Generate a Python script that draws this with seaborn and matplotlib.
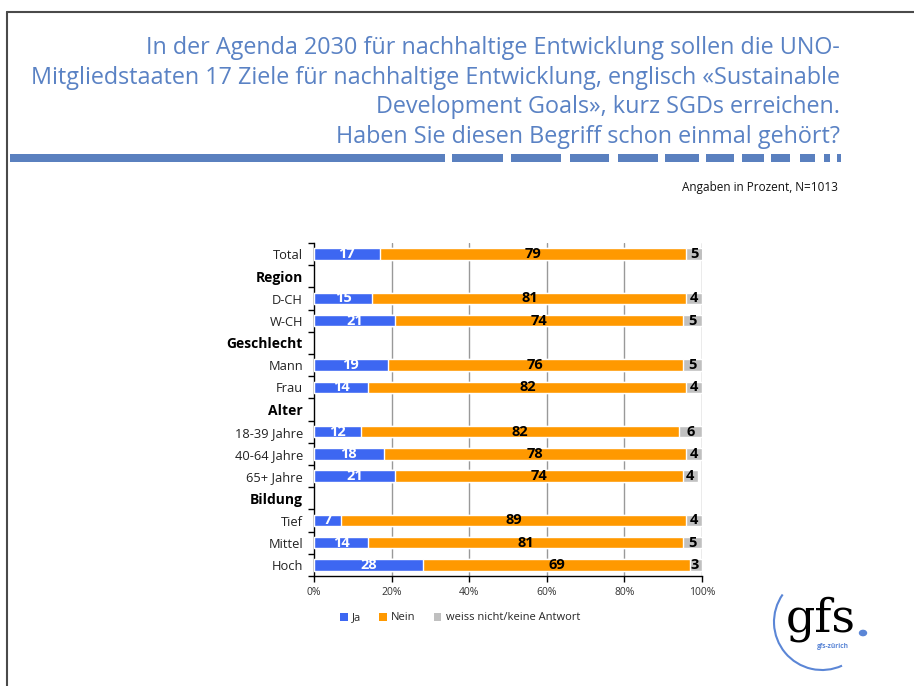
import numpy as np
import pandas as pd
import matplotlib
matplotlib.use("Agg")
import matplotlib.pyplot as plt
from matplotlib.patches import Rectangle, Arc, Patch, Circle
from matplotlib.lines import Line2D
import seaborn as sns

# data
labels = ["Total", "Region", "D-CH", "W-CH", "Geschlecht", "Mann", "Frau",
          "Alter", "18-39 Jahre", "40-64 Jahre", "65+ Jahre",
          "Bildung", "Tief", "Mittel", "Hoch"]
headers = ["Region", "Geschlecht", "Alter", "Bildung"]
ja = [17, np.nan, 15, 21, np.nan, 19, 14, np.nan, 12, 18, 21, np.nan, 7, 14, 28]
nein = [79, np.nan, 81, 74, np.nan, 76, 82, np.nan, 82, 78, 74, np.nan, 89, 81, 69]
wn = [5, np.nan, 4, 5, np.nan, 5, 4, np.nan, 6, 4, 4, np.nan, 4, 5, 3]
series = ["Ja", "Nein", "weiss nicht/keine Antwort"]
colors = ["#3D67F2", "#FF9900", "#C0C0C0"]

df = pd.DataFrame({"label": labels, "Ja": ja, "Nein": nein, "WN": wn})
df["c1"] = df["Ja"]
df["c2"] = df["Ja"] + df["Nein"]
df["c3"] = df["c2"] + df["WN"]

W, H = 914, 686
sns.set_style("white")
plt.rcParams["font.family"] = ["Open Sans", "DejaVu Sans"]
fig = plt.figure(figsize=(W / 100, H / 100), dpi=100)

def fx(px):
    return px / W

def fy(py):
    return 1 - py / H

# slide frame
fig.add_artist(Line2D([fx(7), 1], [fy(12), fy(12)], color="#4a4a4a", lw=1.5))
fig.add_artist(Line2D([fx(7), fx(7)], [fy(12), 0], color="#4a4a4a", lw=1.5))

# title
title = ("In der Agenda 2030 für nachhaltige Entwicklung sollen die UNO-\n"
         "Mitgliedstaaten 17 Ziele für nachhaltige Entwicklung, englisch «Sustainable\n"
         "Development Goals», kurz SGDs erreichen.\n"
         "Haben Sie diesen Begriff schon einmal gehört?")
fig.text(fx(840), fy(36), title, ha="right", va="top", fontsize=16.8,
         color="#5A82C4", linespacing=1.31)

# decorative dashed bar
segs = [(10, 445), (452, 503), (511, 561), (570, 609), (618, 658), (665, 699),
        (706, 734), (742, 764), (771, 790), (800, 815), (824, 830), (837, 841)]
for a, b in segs:
    fig.add_artist(Rectangle((fx(a), fy(162)), fx(b - a), 8 / H,
                             color="#5A80BF", lw=0))

fig.text(fx(838), fy(187), "Angaben in Prozent, N=1013", ha="right", va="center",
         fontsize=8.5, color="#111111")

ax = fig.add_axes([fx(314), fy(576), fx(702 - 314), (576 - 243) / H])
bw = 0.52
sns.barplot(data=df, y="label", x="c3", color=colors[2], ax=ax, width=bw,
            orient="h", saturation=1, zorder=2)
sns.barplot(data=df, y="label", x="c2", color=colors[1], ax=ax, width=bw,
            orient="h", saturation=1, zorder=3)
sns.barplot(data=df, y="label", x="c1", color=colors[0], ax=ax, width=bw,
            orient="h", saturation=1, zorder=4)

for i, r in df.iterrows():
    if np.isnan(r["Ja"]):
        continue
    ax.text(r["Ja"] / 2, i, f"{int(r['Ja'])}", ha="center", va="center",
            color="white", fontweight="bold", fontsize=10.5, zorder=5)
    ax.text(r["Ja"] + r["Nein"] / 2, i, f"{int(r['Nein'])}", ha="center",
            va="center", color="black", fontweight="bold", fontsize=10.5, zorder=5)
    ax.text(min(r["c2"] + r["WN"] / 2, 98), i, f"{int(r['WN'])}", ha="center",
            va="center", color="black", fontweight="bold", fontsize=10.5, zorder=5)

ax.set_xlim(0, 100)
ax.set_ylim(14.5, -0.5)
ax.set_xlabel("")
ax.set_ylabel("")
ax.set_xticks([0, 20, 40, 60, 80, 100])
ax.set_xticklabels(["0%", "20%", "40%", "60%", "80%", "100%"], fontsize=7.5,
                   color="#333333")
for x in [20, 40, 60, 80, 100]:
    ax.axvline(x, color="#999999", lw=1, zorder=1)
ax.set_yticks(range(len(labels)))
ax.set_yticklabels(labels, fontsize=9.3, color="#222222")
for t in ax.get_yticklabels():
    if t.get_text() in headers:
        t.set_fontweight("bold")
        t.set_color("black")
        t.set_fontsize(10)
ax.set_yticks(np.arange(-0.5, len(labels), 1), minor=True)
ax.tick_params(axis="y", which="major", length=0, pad=8)
ax.tick_params(axis="y", which="minor", length=4, color="black", width=1,
               direction="out", left=True)
ax.tick_params(axis="x", length=4, color="black", width=1, direction="out",
               bottom=True, pad=4)
for s in ["top", "right"]:
    ax.spines[s].set_visible(False)
for s in ["left", "bottom"]:
    ax.spines[s].set_color("black")
    ax.spines[s].set_linewidth(1)

handles = [Patch(facecolor=c, edgecolor="none") for c in colors]
fig.legend(handles, series, loc="center", bbox_to_anchor=(fx(460), fy(618)),
           ncol=3, frameon=False, fontsize=8, handlelength=0.7,
           handleheight=0.7, handletextpad=0.4, columnspacing=1.6)

# gfs logo
fig.add_artist(Arc((fx(822), fy(622)), 96 / W, 96 / H, theta1=137, theta2=289,
                   color="#5B86D6", lw=1.5))
fig.text(fx(786), fy(631), "gfs", fontsize=33, family="DejaVu Serif",
         color="black", va="baseline")
fig.add_artist(Circle((fx(863), fy(633)), 3.5 / W, color="#5B86D6",
                      transform=fig.transFigure))
fig.text(fx(817), fy(647), "gfs-zürich", fontsize=4.8, color="#5B86D6",
         fontweight="bold", ha="left", va="center")

fig.savefig("out.png", dpi=100)
